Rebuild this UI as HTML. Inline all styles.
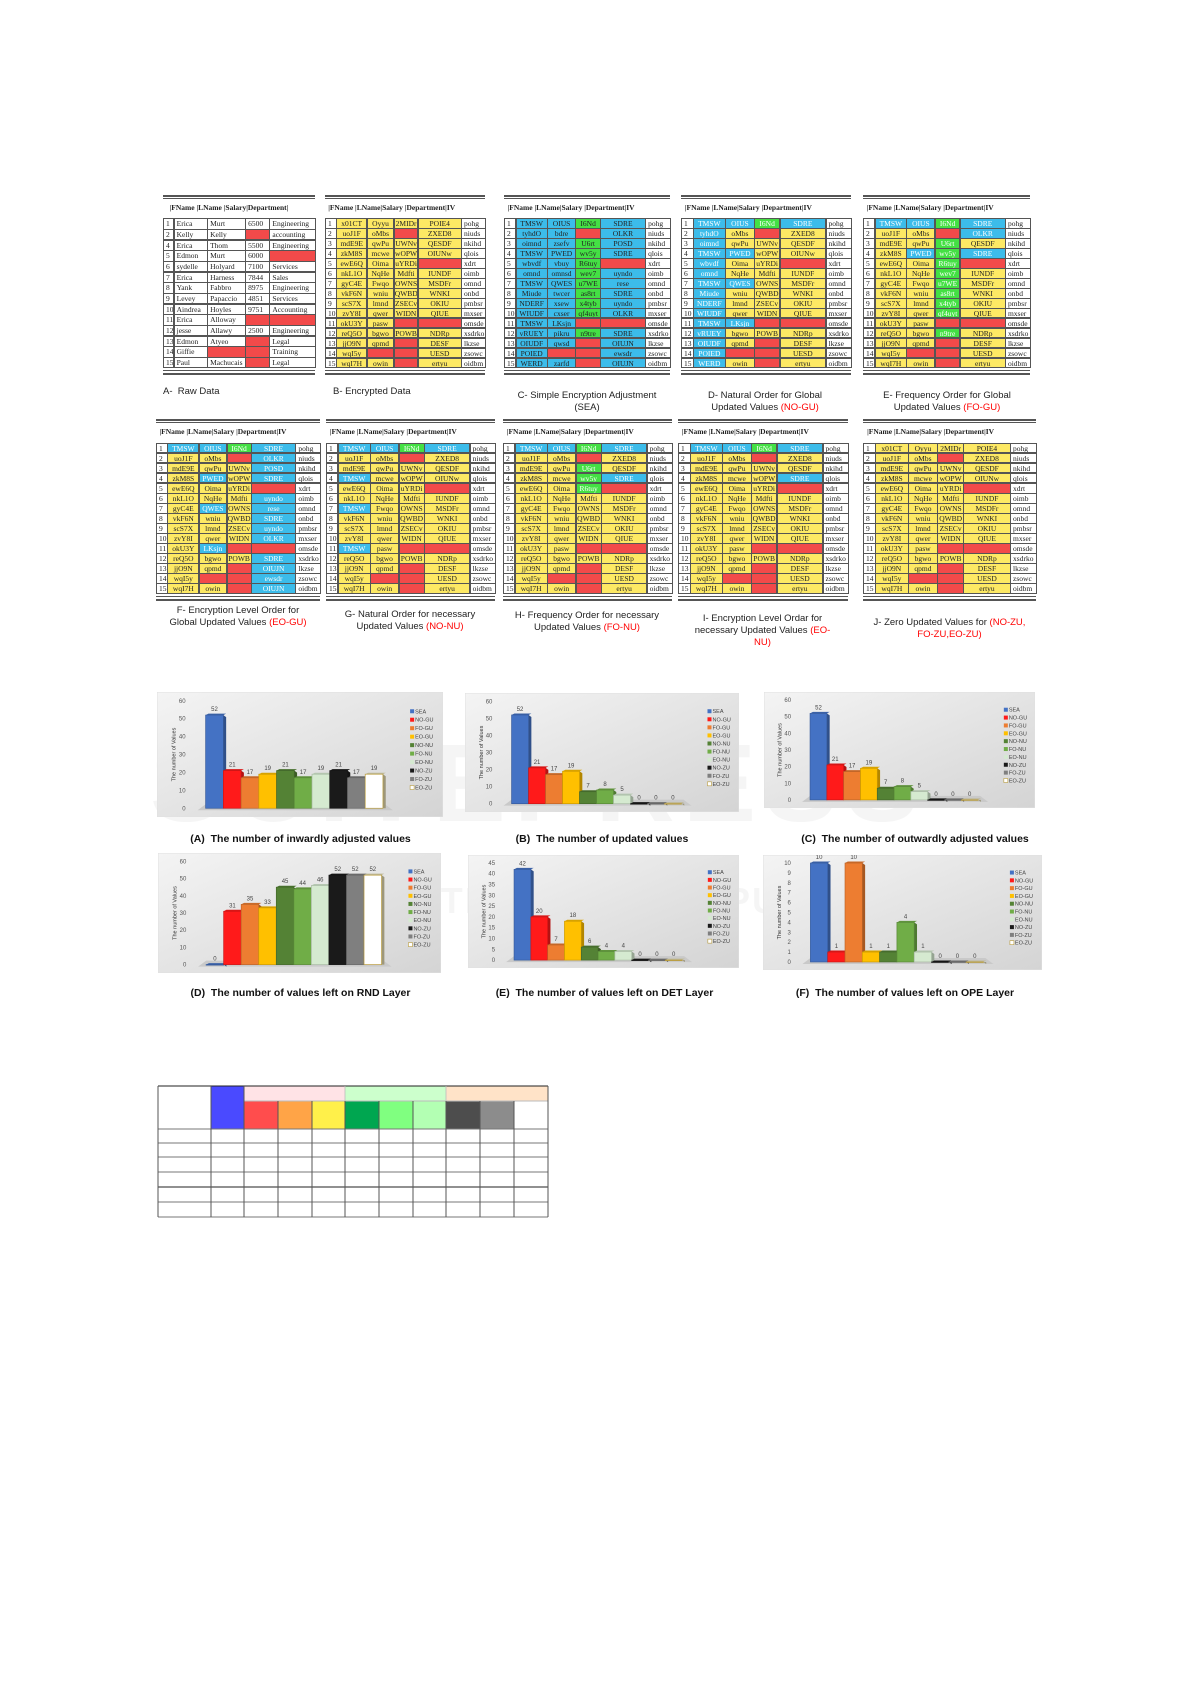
<!DOCTYPE html>
<html><head><meta charset="utf-8">
<style>
html,body{margin:0;padding:0;background:#fff;}
#page{position:relative;width:1191px;height:1684px;overflow:hidden;background:#fff;font-family:"Liberation Sans",sans-serif;}
.tbl{position:absolute;font-family:"Liberation Serif",serif;font-size:7.5px;color:#222;}
.cell{position:absolute;box-sizing:border-box;border:0.6px solid #555;overflow:hidden;white-space:nowrap;text-align:center;line-height:9.5px;}
.hdr{position:absolute;font-weight:bold;white-space:nowrap;font-size:7.5px;}
.rule{position:absolute;left:0;right:0;background:#555;}
.cap{position:absolute;font-size:9.5px;text-align:center;color:#222;line-height:12px;}
.cap span{color:#f00;}
.ccap{position:absolute;font-size:10.5px;font-weight:bold;text-align:center;color:#111;white-space:nowrap;}
.wm{position:absolute;color:#000;opacity:0.035;font-weight:bold;white-space:nowrap;}
</style></head>
<body>
<div id="page">
<div class="wm" style="left:150px;top:720px;font-size:110px;letter-spacing:8px;">SCITEPRESS</div>
<div class="wm" style="left:160px;top:880px;font-size:36px;letter-spacing:2px;">SCIENCE AND TECHNOLOGY PUBLICATIONS</div>

<div class="cap" style="left:163px;top:386px;width:100px;text-align:left;">A-&nbsp; Raw Data</div>
<div class="cap" style="left:333px;top:386px;width:150px;text-align:left;">B- Encrypted Data</div>
<div class="cap" style="left:497px;top:390px;width:180px;">C- Simple Encryption Adjustment<br>(SEA)</div>
<div class="cap" style="left:675px;top:390px;width:180px;">D- Natural Order for Global<br>Updated Values <span>(NO-GU)</span></div>
<div class="cap" style="left:857px;top:390px;width:180px;">E- Frequency Order for Global<br>Updated Values <span>(FO-GU)</span></div>
<div class="cap" style="left:148px;top:605px;width:180px;">F- Encryption Level Order for<br>Global Updated Values <span>(EO-GU)</span></div>
<div class="cap" style="left:320px;top:609px;width:180px;">G- Natural Order for necessary<br>Updated Values <span>(NO-NU)</span></div>
<div class="cap" style="left:497px;top:610px;width:180px;">H- Frequency Order for necessary<br>Updated Values <span>(FO-NU)</span></div>
<div class="cap" style="left:675px;top:613px;width:175px;">I- Encryption Level Ordar for<br>necessary Updated Values <span>(EO-<br>NU)</span></div>
<div class="cap" style="left:857px;top:617px;width:185px;">J- Zero Updated Values for <span>(NO-ZU,<br>FO-ZU,EO-ZU)</span></div>

<div class="ccap" style="left:158px;top:833px;width:285px;">(A)&nbsp; The number of inwardly adjusted values</div>
<div class="ccap" style="left:462px;top:833px;width:280px;">(B)&nbsp; The number of updated values</div>
<div class="ccap" style="left:780px;top:833px;width:270px;">(C)&nbsp; The number of outwardly adjusted values</div>
<div class="ccap" style="left:158px;top:987px;width:285px;">(D)&nbsp; The number of values left on RND Layer</div>
<div class="ccap" style="left:462px;top:987px;width:285px;">(E)&nbsp; The number of values left on DET Layer</div>
<div class="ccap" style="left:770px;top:987px;width:270px;">(F)&nbsp; The number of values left on OPE Layer</div>
</div>
<script>
// ---------- chart data ----------
const seriesNames = ["SEA","NO-GU","FO-GU","EO-GU","NO-NU","FO-NU","EO-NU","NO-ZU","FO-ZU","EO-ZU"];
const valuesA = [52,21,17,19,21,17,19,21,17,19];
const valuesB = [52,21,17,19,7,8,5,0,0,0];
const valuesC = [52,21,17,19,7,8,5,0,0,0];
const valuesD = [0,31,35,33,45,44,46,52,52,52];
const valuesE = [42,20,7,18,6,4,4,0,0,0];
const valuesF = [10,1,10,1,1,4,1,0,0,0];
const ticksA = [0,10,20,30,40,50,60];
const ticksE = [0,5,10,15,20,25,30,35,40,45];
const ticksF = [0,1,2,3,4,5,6,7,8,9,10];
const seriesColors = ["#4472c4","#ff1a1a","#ed7d31","#ffc000","#548235","#70ad47","#d5ead0","#1a1a1a","#7f7f7f","#ffffff"];

// ---------- table data ----------
const encText = [
["x01CT","Oyyu","2MIDr","POIE4","pohg"],["uoJ1F","oMbs","","ZXED8","niuds"],["mdE9E","qwPu","UWNv","QESDF","nkihd"],
["zkM8S","mcwe","wOPW","OIUNw","qlois"],["ewE6Q","Oima","uYRDi","","xdrt"],["nkL1O","NqHe","Mdfti","IUNDF","oimb"],
["gyC4E","Fwqo","OWNS","MSDFr","omnd"],["vkF6N","wniu","QWBD","WNKI","onbd"],["scS7X","lmnd","ZSECv","OKIU","pmbsr"],
["zvY8I","qwer","WIDN","QIUE","mxser"],["okU3Y","pasw","","","omsde"],["reQ5O","bgwo","POWB","NDRp","xsdrko"],
["jjO9N","qpmd","","DESF","lkzse"],["wqI5y","","","UESD","zsowc"],["wqI7H","owin","","ertyu","oidbm"]];
const seaText = [
["TMSW","OIUS","I6Nd","SDRE"],["tyhdO","bdre","","OLKR"],["oimnd","zsefv","U6rt","POSD"],["TMSW","PWED","wv5y","SDRE"],
["wbvdf","vbuy","R6tuy",""],["omnd","omnsd","wev7","uyndo"],["TMSW","QWES","u7WE","rese"],["Miude","twcer","as8rt","SDRE"],
["NDERF","xsew","x4tyb","uyndo"],["WIUDF","cxser","qf4uyt","OLKR"],["TMSW","LKsjn","",""],["vRUEY","pikru","n9tre","SDRE"],
["OIUDF","qwsd","","OIUJN"],["POIED","","","ewsdr"],["WERD","zarfd","","OIUJN"]];
const rawText = [
["1","Erica","Murt","6500","Engineering"],["2","Kelly","Kelly","","accounting"],["4","Erica","Thom","5500","Engineering"],
["5","Edmon","Murt","6000",""],["6","sydelle","Holyard","7100","Services"],["7","Erica","Harness","7844","Sales"],
["8","Yank","Fabbro","8975","Engineering"],["9","Levey","Papaccio","4851","Services"],["10","Aindrea","Hoyles","9751","Accounting"],
["11","Erica","Alloway","",""],["12","jesse","Allawy","2500","Engineering"],["13","Edmon","Atyeo","","Legal"],
["14","Giffie","","","Training"],["15","Paul","Machucais","","Legal"]];
const redMap = ["....","..r.","....","....","...r","....","....","....","....","....","..rr","....","..r.",".rr.","..r."];
const mapB = Array(15).fill("yyyy");
const mapC = Array(15).fill("bbgb");
const mapD = ["bbgb","byyy","byyy","bbyy","byyy","byyy","bbyy","byyy","byyy","byyy","bbyy","byyy","byyy","byyy","byyy"];
const mapE = ["bbgb","yyyb","yygy","ybgb","yygy","yygy","yygy","yygy","yygy","yygy","yyyy","yygy","yyyy","yyyy","yyyy"];
const mapF = ["bbgb","yyyb","yyyb","ybyb","yyyy","yyyb","ybyb","yyyb","yyyb","yyyb","ybyy","yyyb","yyyb","yyyb","yyyb"];
const mapG = ["bbgb","yyyy","yyyy","byyy","yyyy","yyyy","byyy","yyyy","yyyy","yyyy","byyy","yyyy","yyyy","yyyy","yyyy"];
const mapH = ["bbgb","yyyy","yygy","yygb","yygy","yyyy","yyyy","yyyy","yyyy","yyyy","yyyy","yyyy","yyyy","yyyy","yyyy"];
const mapI = ["bbgb","yyyy","yyyy","yyyb","yyyy","yyyy","yyyy","yyyy","yyyy","yyyy","yyyy","yyyy","yyyy","yyyy","yyyy"];
const mapJ = Array(15).fill("yyyy");

const page = document.getElementById('page');
const COL = {y:"#fde964",b:"#3cbcea",g:"#44e044",r:"#f24a4a",w:"#ffffff"};

function addRules(t,w,top,bottom){
  [[top,1.6],[top+3,0.6]].forEach(function(r){const d=document.createElement('div');d.className='rule';d.style.top=r[0]+'px';d.style.height=r[1]+'px';t.appendChild(d);});
  [[bottom,1.8],[bottom+3.5,1.8]].forEach(function(r){const d=document.createElement('div');d.className='rule';d.style.top=r[0]+'px';d.style.height=r[1]+'px';t.appendChild(d);});
}

function makeTable(name,x,y,w,h,map){
  const t=document.createElement('div');t.className='tbl';
  
  
  t.style.left=x+'px';t.style.top=y+'px';t.style.width=w+'px';t.style.height=h+'px';
  page.appendChild(t);
  const fr=[0.07,0.19,0.17,0.15,0.27,0.15];
  const xs=[0];for(let i=0;i<fr.length;i++)xs.push(xs[i]+fr[i]*w);
  const rowTop=h*0.13, rowH=(h*0.84-2)/15;
  addRules(t,w,0,h*0.97);
  const hd=document.createElement('div');hd.className='hdr';
  
  
  hd.style.left=(xs[1]-8)+'px';hd.style.top=(h*0.045)+'px';
  hd.textContent='|FName |LName|Salary |Department|IV';
  t.appendChild(hd);
  for(let r=0;r<15;r++){
    for(let c=0;c<6;c++){
      const d=document.createElement('div');d.className='cell';
      
      
      d.style.left=xs[c]+'px';d.style.top=(rowTop+r*rowH)+'px';
      d.style.width=(xs[c+1]-xs[c]+0.6)+'px';d.style.height=(rowH+0.6)+'px';d.style.lineHeight=rowH+'px';
      let bg='#fff',txt='';
      if(c===0){txt=String(r+1);d.style.textAlign='left';d.style.paddingLeft='2px';}
      else if(c===5){txt=encText[r][4];d.style.textAlign='left';d.style.paddingLeft='2px';}
      else{
        const k=map[r][c-1];
        if(redMap[r][c-1]==='r'){bg=COL.r;}
        else{bg=COL[k];txt=(k==='b'||k==='g')?seaText[r][c-1]:encText[r][c-1];
          if(map!==mapC&&(k==='b'||k==='g'))d.style.color='#fff';}
      }
      d.style.background=bg;d.textContent=txt;t.appendChild(d);
    }
  }
}
function makeRaw(x,y,w,h){
  const t=document.createElement('div');t.className='tbl';
  
  
  t.style.left=x+'px';t.style.top=y+'px';t.style.width=w+'px';t.style.height=h+'px';
  page.appendChild(t);
  const fr=[0.07,0.22,0.25,0.16,0.30];
  const xs=[0];for(let i=0;i<fr.length;i++)xs.push(xs[i]+fr[i]*w);
  addRules(t,w,0,h*0.97);
  const hd=document.createElement('div');hd.className='hdr';
  
  
  hd.style.left=(xs[1]-4)+'px';hd.style.top=(h*0.045)+'px';
  hd.textContent='|FName |LName  |Salary|Department|';
  t.appendChild(hd);
  const rowTop=h*0.13,rowH=(h*0.84-2)/14;
  for(let r=0;r<14;r++)for(let c=0;c<5;c++){
    const d=document.createElement('div');d.className='cell';
    
    
    d.style.left=xs[c]+'px';d.style.top=(rowTop+r*rowH)+'px';
    d.style.width=(xs[c+1]-xs[c]+0.6)+'px';d.style.height=(rowH+0.6)+'px';d.style.lineHeight=rowH+'px';
    d.style.textAlign='left';d.style.paddingLeft='2px';
    if(c>0&&rawText[r][c]==='')d.style.background=COL.r;
    d.textContent=rawText[r][c];
    t.appendChild(d);
  }
}
makeRaw(163,195,152,180);
makeTable('encrypted-table',325,195,160,180,mapB);
makeTable('sea-table',504,195,166,180,mapC);
makeTable('no-gu-table',681,195,170,180,mapD);
makeTable('fo-gu-table',863,195,167,180,mapE);
makeTable('eo-gu-table',156,419,164,182,mapF);
makeTable('no-nu-table',326,419,169,182,mapG);
makeTable('fo-nu-table',503,419,169,182,mapH);
makeTable('eo-nu-table',678,419,170,182,mapI);
makeTable('zero-table',863,419,173,182,mapJ);

// ---------- charts ----------
const NS='http://www.w3.org/2000/svg';
function el(tag,attrs,parent){const e=document.createElementNS(NS,tag);for(const k in attrs)e.setAttribute(k,attrs[k]);parent.appendChild(e);return e;}
function shade(hex,f){const n=parseInt(hex.slice(1),16);let r=(n>>16)&255,g=(n>>8)&255,b=n&255;r=Math.round(r*f);g=Math.round(g*f);b=Math.round(b*f);return 'rgb('+r+','+g+','+b+')';}
function makeChart(name,x,y,w,h,vals,ticks){
  const svg=document.createElementNS(NS,'svg');
  
  
  svg.setAttribute('width',w);svg.setAttribute('height',h);
  svg.style.position='absolute';svg.style.left=x+'px';svg.style.top=y+'px';
  page.appendChild(svg);
  const defs=el('defs',{},svg);
  const gid=name+'-bg';
  const lg=el('linearGradient',{id:gid,x1:0,y1:0,x2:1,y2:1},defs);
  el('stop',{offset:'0','stop-color':'#f4f4f4'},lg);el('stop',{offset:'1','stop-color':'#d4d4d4'},lg);
  const bg=el('rect',{x:0,y:0,width:w,height:h,fill:'url(#'+gid+')',stroke:'#e0e0e0'},svg);
  
  
  const maxV=ticks[ticks.length-1];
  const top=h*0.07, bot=h*0.93;
  const yS=function(v){return bot-(v/maxV)*(bot-top);};
  const x0=w*0.17, x1=w*0.79;
  el('polygon',{points:(x0-8)+','+(bot+2)+' '+(x1+10)+','+(bot+2)+' '+(x1+2)+','+(bot-4)+' '+(x0)+','+(bot-4),fill:'#c9c9c9'},svg);
  ticks.forEach(function(t){
    const tl=el('text',{x:w*0.1,y:yS(t)+2,'font-size':6,'text-anchor':'end',fill:'#555','font-family':'Liberation Sans'},svg);
    
    
    tl.textContent=t;
  });
  const yt=el('text',{x:0,y:0,'font-size':5.5,'text-anchor':'middle',fill:'#333',transform:'translate('+(w*0.065)+','+((top+bot)/2)+') rotate(-90)','font-family':'Liberation Sans'},svg);
  
  
  yt.textContent='The number of Values';
  const bw=(x1-x0)/vals.length;
  vals.forEach(function(v,i){
    const bx=x0+i*bw, by=yS(v), c=seriesColors[i];
    const dep=4;
    el('polygon',{points:(bx+bw)+','+by+' '+(bx+bw+dep*0.7)+','+(by+dep*0.5)+' '+(bx+bw+dep*0.7)+','+(bot)+' '+(bx+bw)+','+bot,fill:shade(c==='#ffffff'?'#e0d8b0':c,0.7)},svg);
    el('polygon',{points:bx+','+by+' '+(bx+bw)+','+by+' '+(bx+bw+dep*0.7)+','+(by-1.5)+' '+(bx+dep*0.7)+','+(by-1.5),fill:shade(c==='#ffffff'?'#e0d8b0':c,0.85)},svg);
    const r=el('rect',{x:bx,y:by,width:bw,height:Math.max(bot-by,0.5),fill:c,stroke:c==='#ffffff'?'#b89b3c':shade(c,0.8),'stroke-width':0.7},svg);
    
    
    const t=el('text',{x:bx+bw/2,y:by-4,'font-size':6,'text-anchor':'middle',fill:'#444','font-family':'Liberation Sans'},svg);
    
    
    t.textContent=v;
  });
  const lx=w*0.885, ly0=h*0.17, lstep=(h*0.78-h*0.17)/9;
  seriesNames.forEach(function(s,i){
    const g=el('g',{},svg);
    
    
    el('rect',{x:lx,y:ly0+i*lstep-4,width:4,height:4,fill:seriesColors[i],stroke:seriesColors[i]==='#ffffff'?'#b89b3c':'none','stroke-width':0.6},g);
    const t=el('text',{x:lx+5,y:ly0+i*lstep,'font-size':5.5,fill:'#444','font-family':'Liberation Sans'},g);
    t.textContent=s;
  });
}
makeChart('chart-a',157,692,286,125,valuesA,ticksA);
makeChart('chart-b',465,693,274,119,valuesB,ticksA);
makeChart('chart-c',764,692,271,116,valuesC,ticksA);
makeChart('chart-d',158,853,283,120,valuesD,ticksA);
makeChart('chart-e',468,855,271,113,valuesE,ticksE);
makeChart('chart-f',763,855,279,115,valuesF,ticksF);

// ---------- bottom legend table ----------
const bxs=[158,211,244,278,312,345,379,413,446,480,514,548];
const bys=[1086,1101,1129,1143,1157,1172,1187,1202,1217];
const headColors=["#ffffff","#4a4aff","#ff4d4d","#ffa447","#fff04a","#00a650","#80ff80","#b3ffb3","#4d4d4d","#8c8c8c","#ffffff"];
const bandColors=["#ffe3e6","#ccffcc","#ffe3c8"];
const svgT=document.createElementNS(NS,'svg');


svgT.setAttribute('width',1191);svgT.setAttribute('height',1684);
svgT.style.position='absolute';svgT.style.left='0';svgT.style.top='0';
page.appendChild(svgT);
for(let b=0;b<3;b++){
  el('rect',{x:bxs[2+b*3],y:bys[0],width:bxs[5+b*3]-bxs[2+b*3],height:bys[1]-bys[0],fill:bandColors[b]},svgT);
}
for(let c=0;c<11;c++){
  const top=(c<=1)?bys[0]:bys[1];
  const r=el('rect',{x:bxs[c],y:top,width:bxs[c+1]-bxs[c],height:bys[2]-top,fill:headColors[c]},svgT);
  
  
}
bys.forEach(function(yy,i){ if(i===1){el('line',{x1:bxs[2],x2:bxs[11],y1:yy,y2:yy,stroke:'#bbb','stroke-width':1},svgT);} else el('line',{x1:bxs[0],x2:bxs[11],y1:yy,y2:yy,stroke:(i===0||i===6)?'#222':'#777','stroke-width':1},svgT);});
bxs.forEach(function(xx,i){
  const top=(i<=2||i===11)?bys[0]:bys[1];
  el('line',{x1:xx,x2:xx,y1:top,y2:bys[8],stroke:'#555','stroke-width':1},svgT);
});
[bxs[5],bxs[8]].forEach(function(xx){el('line',{x1:xx,x2:xx,y1:bys[0],y2:bys[1],stroke:'#bbb','stroke-width':0.8},svgT);});
</script>
</body></html>
